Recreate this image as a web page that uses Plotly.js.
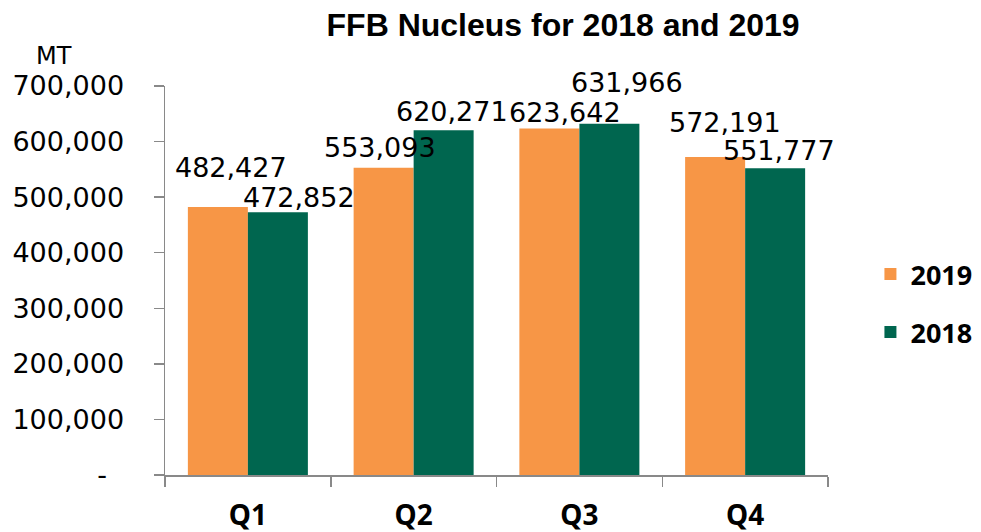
<!DOCTYPE html>
<html>
<head>
<meta charset="utf-8">
<script src="https://cdn.plot.ly/plotly-3.0.1.min.js"></script>
<style>
  html, body { margin: 0; padding: 0; background: #ffffff; }
  #chart { width: 981px; height: 532px; }
</style>
</head>
<body>
<div id="chart"></div>
<script>
// ---- Data ----
var quarters = ["Q1", "Q2", "Q3", "Q4"];
var values2019 = [482427, 553093, 623642, 572191];
var values2018 = [472852, 620271, 631966, 551777];
var seriesNames = ["2019", "2018"];
var yTickVals = [0, 100000, 200000, 300000, 400000, 500000, 600000, 700000];
var yTickText = ["-\u00a0\u00a0", "100,000", "200,000", "300,000", "400,000", "500,000", "600,000", "700,000"];

// ---- Styling / label placement (pixels) ----
var colors = ["#F79646", "#00664F"];
var barHalf = 30;
var labelDx = [[13, -3.5, 16, 10], [21, 8.5, 18, 4]];
var labelDy = [[39, 20, 16, 35], [15, 19, 41, 18]];

function fmt(v) { return v.toLocaleString("en-US"); }

var traces = [values2019, values2018].map(function (vals, s) {
  return {
    type: "bar",
    name: seriesNames[s],
    legendgroup: "g" + s,
    x: quarters,
    y: vals,
    marker: { color: colors[s] },
    hoverinfo: "none"
  };
});

var annotations = [];
[values2019, values2018].forEach(function (vals, s) {
  vals.forEach(function (v, i) {
    annotations.push({
      x: quarters[i], y: v, xref: "x", yref: "y",
      text: fmt(v), showarrow: false,
      xanchor: "center", yanchor: "middle",
      xshift: (s === 0 ? -barHalf : barHalf) + labelDx[s][i],
      yshift: labelDy[s][i],
      font: { family: "DejaVu Sans", size: 27, color: "#000" }
    });
  });
});
annotations.push({
  text: "MT", xref: "paper", yref: "paper",
  x: -0.1667, y: 1.076, xanchor: "center", yanchor: "middle",
  showarrow: false,
  font: { family: "DejaVu Sans", size: 24, color: "#000" }
});

var layout = {
  width: 981, height: 532,
  margin: { l: 165, r: 153, t: 86, b: 57, autoexpand: false },
  paper_bgcolor: "#ffffff",
  plot_bgcolor: "rgba(0,0,0,0)",
  title: {
    text: "FFB Nucleus for 2018 and 2019",
    x: 0.574, xref: "container", xanchor: "center",
    y: 0.953, yref: "container", yanchor: "middle",
    font: { family: "Liberation Sans", size: 32, color: "#000", weight: "bold" }
  },
  barmode: "group",
  bargap: 0.276,
  bargroupgap: 0,
  xaxis: {
    type: "category",
    range: [-0.5, 3.5],
    automargin: false,
    showline: true, linecolor: "#898989", linewidth: 1.5,
    ticks: "outside", tickson: "boundaries", ticklen: 10, tickwidth: 1.5, tickcolor: "#898989",
    ticklabelstandoff: 15,
    tickfont: { family: "Noto Sans", size: 28, color: "#000", weight: "bold" },
    showgrid: false, zeroline: false, fixedrange: true
  },
  yaxis: {
    range: [0, 700000],
    automargin: false,
    tickvals: yTickVals, ticktext: yTickText,
    showline: true, linecolor: "#898989", linewidth: 1.5,
    ticks: "outside", ticklen: 10, tickwidth: 1.5, tickcolor: "#898989",
    ticklabelstandoff: 24,
    tickfont: { family: "DejaVu Sans", size: 27, color: "#000" },
    showgrid: false, zeroline: false, fixedrange: true
  },
  legend: {
    x: 1.064, xanchor: "left", y: 0.441, yanchor: "middle",
    traceorder: "grouped", tracegroupgap: 20,
    font: { family: "Noto Sans", size: 27, color: "#000", weight: "bold" },
    bgcolor: "rgba(0,0,0,0)"
  },
  annotations: annotations,
  showlegend: true
};

Plotly.newPlot("chart", traces, layout, { staticPlot: true, displayModeBar: false });
</script>
</body>
</html>
